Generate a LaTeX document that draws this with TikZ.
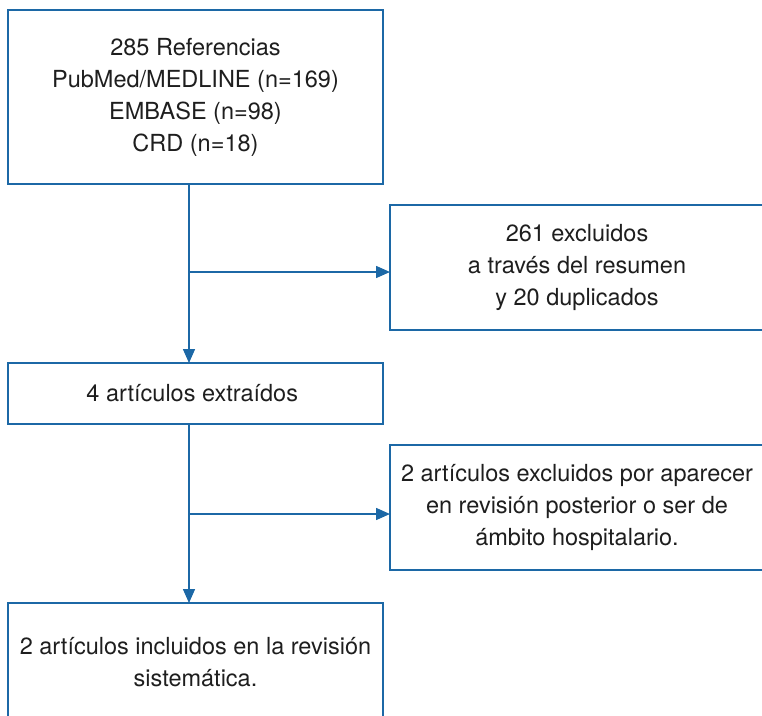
\documentclass[tikz,border=0pt]{standalone}
\usepackage{fontspec}
\setmainfont{TeX Gyre Heros}
\usetikzlibrary{
    arrows.meta,
    positioning
}
\definecolor{flowblue}{RGB}{28,104,166}
\definecolor{flowtext}{RGB}{30,30,30}
\tikzset{
    stage/.style={
        rectangle,
        draw=flowblue,
        line width=1.5pt,
        align=center,
        inner sep=0pt,
        outer sep=0pt,
        text=flowtext,
        font=\fontsize{23.5}{32}\selectfont
    },
    mainbox/.style={
        stage,
        minimum width=375pt
    },
    sidebox/.style={
        stage,
        minimum width=374pt,
        minimum height=125pt
    },
    flow/.style={
        -{Triangle[length=14pt, width=12pt]},
        draw=flowblue,
        line width=1.5pt
    }
}
\begin{document}
\begin{tikzpicture}[x=1pt, y=-1pt]
        \clip (0,0) rectangle (762,715);

        % Search results
        \node [mainbox, minimum height=174pt, anchor=north west] (refs) at (8,10) {
            285 Referencias\\
            PubMed/MEDLINE (n=169)\\
            EMBASE (n=98)\\
            CRD (n=18)
        };

        % Articles extracted
        \node [mainbox, minimum height=61pt, below=179pt of refs] (extracted) {
            4 art\'iculos extra\'idos
        };

        % Articles included
        \node [mainbox, minimum height=118pt, below=179pt of extracted] (included) {
            2 art\'iculos incluidos en la revisi\'on\\
            sistem\'atica.
        };

        % Excluded after abstract
        \node [sidebox, anchor=north west] (abstracts) at (390,205) {
            261 excluidos\\
            a trav\'es del resumen\\
            y 20 duplicados
        };

        % Excluded after full text
        \node [sidebox, anchor=north west] (fulltext) at (390,445) {
            2 art\'iculos excluidos por aparecer\\
            en revisi\'on posterior o ser de\\
            \'ambito hospitalario.
        };

        % Main flow
        \draw [flow] (refs.south -| 189,0) -- (extracted.north -| 189,0);
        \draw [flow] (extracted.south -| 189,0) -- (included.north -| 189,0);

        % Exclusions
        \coordinate (split1) at (189,272);
        \coordinate (split2) at (189,514);
        \draw [flow] (split1) -- (split1 -| abstracts.west);
        \draw [flow] (split2) -- (split2 -| fulltext.west);
    \end{tikzpicture}
\end{document}
